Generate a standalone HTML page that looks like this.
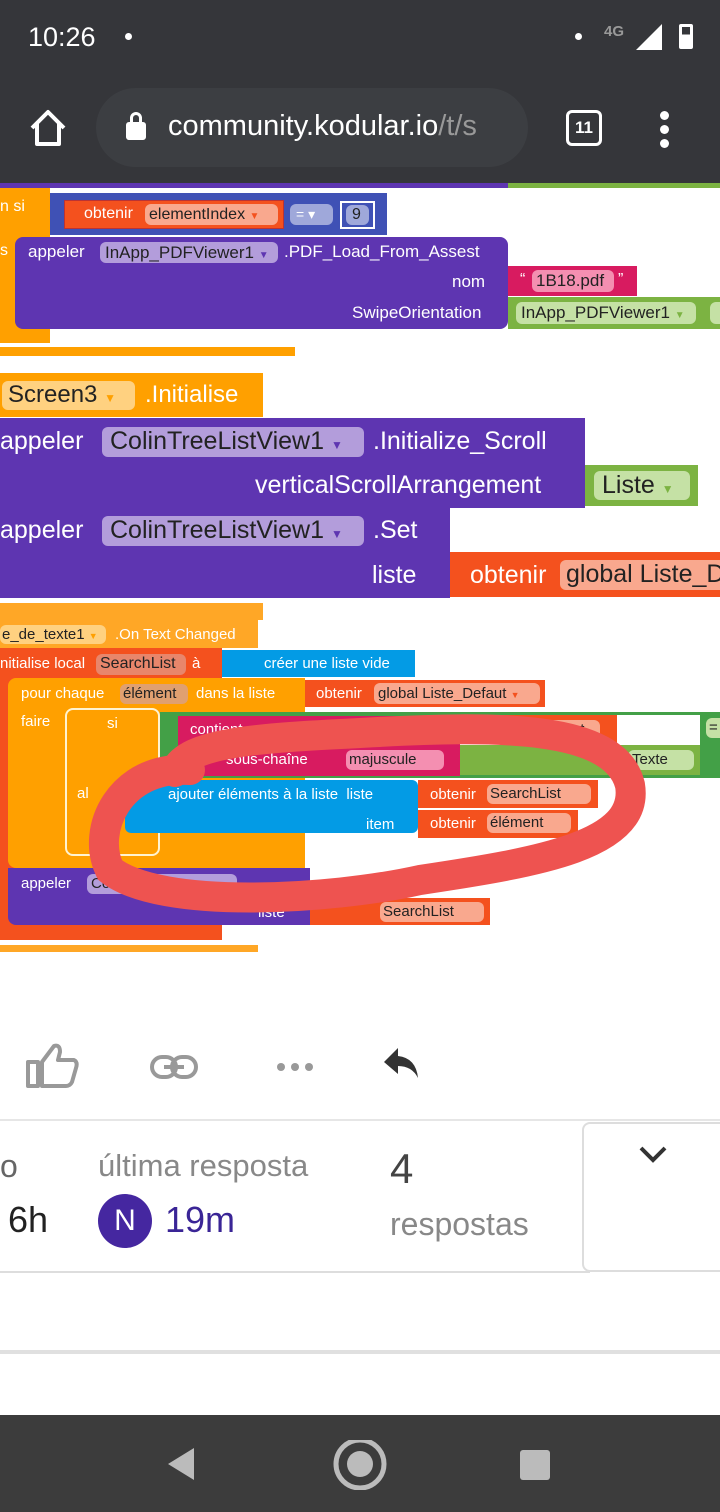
<!DOCTYPE html>
<html><head><meta charset="utf-8"><style>
*{margin:0;padding:0;box-sizing:border-box}
body{width:720px;height:1512px;position:relative;overflow:hidden;background:#fff;font-family:"Liberation Sans",sans-serif}
.a{position:absolute}
.t{position:absolute;white-space:nowrap;color:#fff;line-height:1}
.p{position:absolute;border-radius:6px;white-space:nowrap;line-height:1;color:#222}
.P{background:#5e35b1}.Y{background:#ffa000}.R{background:#f4511e}.B{background:#039be5}.G{background:#7cb342}.DG{background:#43a047}.M{background:#d81b60}.N{background:#3f51b5}
</style></head><body>
<!-- header -->
<div class="a" style="left:0;top:0;width:720px;height:183px;background:#35363a"></div>
<div class="t" style="left:28px;top:24px;font-size:27px">10:26</div>
<div class="a" style="left:125px;top:33px;width:7px;height:7px;border-radius:50%;background:#fff"></div>
<div class="a" style="left:575px;top:33px;width:7px;height:7px;border-radius:50%;background:#fff"></div>
<div class="t" style="left:604px;top:24px;font-size:15px;color:#999;font-weight:bold">4G</div>
<svg class="a" style="left:634px;top:24px" width="30" height="26"><polygon points="28,0 28,26 2,26" fill="#fff"/></svg>
<div class="a" style="left:679px;top:24px;width:14px;height:25px;border:3px solid #fff;border-radius:2px;background:linear-gradient(#35363a 40%,#fff 40%)"></div>
<svg class="a" style="left:28px;top:108px" width="40" height="40"><path d="M4 20 L20 4 L36 20 M9 15 V36 H31 V15" fill="none" stroke="#fff" stroke-width="4" stroke-linejoin="round"/></svg>
<div class="a" style="left:96px;top:88px;width:432px;height:79px;border-radius:40px;background:#3c3e42"></div>
<div class="a" style="left:126px;top:122px;width:20px;height:18px;background:#fff;border-radius:3px"></div>
<div class="a" style="left:130px;top:112px;width:12px;height:14px;border:3px solid #fff;border-radius:6px 6px 0 0"></div>
<div class="t" style="left:168px;top:112px;font-size:29px">community.kodular.io<span style="color:#999">/t/s</span></div>
<div class="a" style="left:566px;top:110px;width:36px;height:36px;border:3px solid #fff;border-radius:6px;color:#fff;font-size:17px;text-align:center;line-height:30px;font-weight:bold">11</div>
<div class="a" style="left:660px;top:111px;width:9px;height:9px;border-radius:50%;background:#fff;box-shadow:0 14px 0 #fff,0 28px 0 #fff"></div>

<!-- blocks top -->
<div class="a P" style="left:0;top:183px;width:508px;height:5px"></div>
<div class="a G" style="left:508px;top:183px;width:212px;height:5px"></div>
<div class="a Y" style="left:0;top:188px;width:50px;height:155px"></div>
<div class="t" style="left:0;top:199px;font-size:16px">n si</div>
<div class="t" style="left:0;top:243px;font-size:16px">s</div>
<div class="a N" style="left:50px;top:193px;width:337px;height:42px"></div>
<div class="a R" style="left:64px;top:200px;width:220px;height:29px;border:1px solid #b33"></div>
<div class="t" style="left:84px;top:206px;font-size:16px">obtenir</div>
<div class="p" style="left:145px;top:204px;width:133px;height:21px;background:#f9a88e;font-size:16px;padding:3px 4px">elementIndex <span style="color:#f4511e;font-size:10px">▼</span></div>
<div class="p" style="left:290px;top:204px;width:43px;height:21px;background:#9fa8da;font-size:14px;padding:3px 6px;color:#fff">= ▾</div>
<div class="a" style="left:340px;top:201px;width:35px;height:28px;border:2px solid #fff;background:#3f51b5"></div>
<div class="p" style="left:346px;top:205px;width:23px;height:20px;background:#9fa8da;font-size:16px;padding:2px 6px">9</div>
<div class="a P" style="left:15px;top:237px;width:493px;height:92px;border-radius:8px"></div>
<div class="t" style="left:28px;top:243px;font-size:17px">appeler</div>
<div class="p" style="left:100px;top:242px;width:178px;height:21px;background:#b39ddb;font-size:17px;padding:2px 5px">InApp_PDFViewer1 <span style="color:#5e35b1;font-size:10px">▼</span></div>
<div class="t" style="left:284px;top:243px;font-size:17px">.PDF_Load_From_Assest</div>
<div class="t" style="left:452px;top:273px;font-size:17px">nom</div>
<div class="a M" style="left:508px;top:266px;width:129px;height:30px"></div>
<div class="t" style="left:520px;top:272px;font-size:16px">“</div>
<div class="p" style="left:532px;top:270px;width:82px;height:22px;background:#f48fb1;font-size:17px;padding:2px 4px">1B18.pdf</div>
<div class="t" style="left:618px;top:272px;font-size:16px">”</div>
<div class="t" style="left:352px;top:304px;font-size:17px">SwipeOrientation</div>
<div class="a G" style="left:508px;top:297px;width:212px;height:32px"></div>
<div class="p" style="left:516px;top:302px;width:180px;height:22px;background:#c5e1a5;font-size:17px;padding:2px 5px">InApp_PDFViewer1 <span style="color:#7cb342;font-size:10px">▼</span></div>
<div class="p" style="left:710px;top:302px;width:20px;height:22px;background:#c5e1a5"></div>
<div class="a Y" style="left:0;top:347px;width:295px;height:9px"></div>

<!-- Screen3 -->
<div class="a Y" style="left:0;top:373px;width:263px;height:44px"></div>
<div class="p" style="left:2px;top:381px;width:133px;height:29px;background:#ffd180;font-size:24px;padding:2px 6px">Screen3 <span style="color:#ffa000;font-size:12px">▼</span></div>
<div class="t" style="left:145px;top:383px;font-size:24px">.Initialise</div>
<div class="a P" style="left:0;top:418px;width:585px;height:90px"></div>
<div class="t" style="left:0;top:429px;font-size:25px">appeler</div>
<div class="p" style="left:102px;top:427px;width:262px;height:30px;background:#b39ddb;font-size:25px;padding:2px 8px">ColinTreeListView1 <span style="color:#5e35b1;font-size:12px">▼</span></div>
<div class="t" style="left:373px;top:429px;font-size:25px">.Initialize_Scroll</div>
<div class="t" style="left:255px;top:473px;font-size:25px">verticalScrollArrangement</div>
<div class="a G" style="left:585px;top:465px;width:113px;height:41px"></div>
<div class="p" style="left:594px;top:471px;width:96px;height:29px;background:#c5e1a5;font-size:25px;padding:2px 8px">Liste <span style="color:#7cb342;font-size:12px">▼</span></div>
<div class="a P" style="left:0;top:508px;width:450px;height:90px"></div>
<div class="t" style="left:0;top:518px;font-size:25px">appeler</div>
<div class="p" style="left:102px;top:516px;width:262px;height:30px;background:#b39ddb;font-size:25px;padding:2px 8px">ColinTreeListView1 <span style="color:#5e35b1;font-size:12px">▼</span></div>
<div class="t" style="left:373px;top:518px;font-size:25px">.Set</div>
<div class="t" style="left:372px;top:563px;font-size:25px">liste</div>
<div class="a R" style="left:450px;top:552px;width:270px;height:45px"></div>
<div class="t" style="left:470px;top:563px;font-size:25px">obtenir</div>
<div class="p" style="left:560px;top:560px;width:170px;height:30px;background:#f9a88e;font-size:25px;padding:2px 6px">global Liste_D</div>

<!-- On text changed -->
<div class="a Y" style="left:0;top:603px;width:263px;height:17px;background:#ffa726"></div>
<div class="a" style="left:0;top:620px;width:258px;height:28px;background:#ffa726"></div>
<div class="p" style="left:0;top:625px;width:106px;height:19px;background:#ffd180;font-size:15px;padding:2px 2px">e_de_texte1 <span style="color:#ffa000;font-size:9px">▼</span></div>
<div class="t" style="left:115px;top:627px;font-size:15px">.On Text Changed</div>
<div class="a R" style="left:0;top:648px;width:222px;height:292px"></div>
<div class="t" style="left:0;top:656px;font-size:15px">nitialise local</div>
<div class="p" style="left:96px;top:654px;width:90px;height:21px;background:#e8866b;font-size:16px;padding:2px 4px">SearchList</div>
<div class="t" style="left:192px;top:656px;font-size:15px">à</div>
<div class="a B" style="left:222px;top:650px;width:193px;height:27px"></div>
<div class="t" style="left:264px;top:656px;font-size:15px">créer une liste vide</div>
<div class="a Y" style="left:8px;top:678px;width:297px;height:190px;border-radius:8px 0 0 8px"></div>
<div class="t" style="left:21px;top:686px;font-size:15px">pour chaque</div>
<div class="p" style="left:120px;top:684px;width:68px;height:20px;background:#e0a070;font-size:15px;padding:2px 3px">élément</div>
<div class="t" style="left:196px;top:686px;font-size:15px">dans la liste</div>
<div class="a R" style="left:305px;top:680px;width:240px;height:27px"></div>
<div class="t" style="left:316px;top:686px;font-size:15px">obtenir</div>
<div class="p" style="left:374px;top:683px;width:166px;height:21px;background:#f9a88e;font-size:15px;padding:3px 4px">global Liste_Defaut <span style="color:#f4511e;font-size:9px">▼</span></div>
<div class="t" style="left:21px;top:714px;font-size:15px">faire</div>
<div class="a" style="left:65px;top:708px;width:95px;height:148px;background:#ffa000;border:2px solid #fff3d0;border-radius:8px"></div>
<div class="t" style="left:107px;top:716px;font-size:15px">si</div>
<div class="t" style="left:77px;top:786px;font-size:15px">al</div>
<div class="a DG" style="left:160px;top:712px;width:560px;height:66px"></div>
<div class="a M" style="left:178px;top:716px;width:282px;height:60px"></div>
<div class="t" style="left:190px;top:722px;font-size:15px">contient</div>
<div class="t" style="left:226px;top:752px;font-size:15px">sous-chaîne</div>
<div class="p" style="left:346px;top:750px;width:98px;height:20px;background:#f48fb1;font-size:15px;padding:2px 3px">majuscule</div>
<div class="a" style="left:460px;top:715px;width:240px;height:30px;background:#fff"></div>
<div class="a R" style="left:460px;top:715px;width:157px;height:29px"></div>
<div class="t" style="left:470px;top:722px;font-size:15px">obtenir</div>
<div class="p" style="left:528px;top:720px;width:72px;height:20px;background:#f9a88e;font-size:15px;padding:2px 3px">élément</div>
<div class="a G" style="left:460px;top:745px;width:240px;height:30px"></div>
<div class="p" style="left:628px;top:750px;width:66px;height:20px;background:#c5e1a5;font-size:15px;padding:2px 4px">Texte</div>
<div class="p" style="left:706px;top:718px;width:20px;height:20px;background:#c5e1a5;font-size:15px;padding:2px 3px">=</div>
<div class="a B" style="left:125px;top:780px;width:293px;height:53px;border-radius:6px"></div>
<div class="t" style="left:168px;top:787px;font-size:15px">ajouter éléments à la liste &nbsp;liste</div>
<div class="t" style="left:366px;top:817px;font-size:15px">item</div>
<div class="a R" style="left:418px;top:780px;width:180px;height:28px"></div>
<div class="t" style="left:430px;top:787px;font-size:15px">obtenir</div>
<div class="p" style="left:487px;top:784px;width:104px;height:20px;background:#f9a88e;font-size:15px;padding:2px 3px">SearchList</div>
<div class="a R" style="left:418px;top:810px;width:160px;height:28px"></div>
<div class="t" style="left:430px;top:816px;font-size:15px">obtenir</div>
<div class="p" style="left:487px;top:813px;width:84px;height:20px;background:#f9a88e;font-size:15px;padding:2px 3px">élément</div>
<div class="a Y" style="left:65px;top:856px;width:240px;height:11px"></div>
<div class="a P" style="left:8px;top:868px;width:302px;height:57px;border-radius:0 0 0 8px"></div>
<div class="t" style="left:21px;top:876px;font-size:15px">appeler</div>
<div class="p" style="left:87px;top:874px;width:150px;height:20px;background:#b39ddb;font-size:15px;padding:2px 4px">Co</div>
<div class="t" style="left:258px;top:905px;font-size:15px">liste</div>
<div class="a R" style="left:310px;top:898px;width:180px;height:27px"></div>
<div class="p" style="left:380px;top:902px;width:104px;height:20px;background:#f9a88e;font-size:15px;padding:2px 3px">SearchList</div>
<div class="a Y" style="left:0;top:945px;width:258px;height:7px;background:#ffa726"></div>

<svg class="a" style="left:0;top:0" width="720" height="1000"><path d="M190 770 C120 765 90 830 110 870 C160 910 330 900 420 880 C540 862 640 845 630 785 C615 725 500 725 360 733 C260 738 185 742 175 772" fill="none" stroke="#ee5350" stroke-width="30" stroke-linecap="round"/></svg>

<!-- footer -->
<svg class="a" style="left:26px;top:1042px" width="54" height="46"><path d="M2 20 H12 V44 H2 Z M16 20 L28 4 Q34 2 34 10 L32 18 H48 Q52 20 50 26 L46 40 Q44 44 40 44 H16 Z" fill="none" stroke="#999" stroke-width="4" stroke-linejoin="round"/></svg>
<svg class="a" style="left:150px;top:1054px" width="48" height="26"><rect x="2" y="3" width="24" height="20" rx="10" fill="none" stroke="#999" stroke-width="4"/><rect x="22" y="3" width="24" height="20" rx="10" fill="none" stroke="#999" stroke-width="4"/><rect x="14" y="11" width="20" height="4" fill="#999"/></svg>
<div class="a" style="left:277px;top:1063px;width:8px;height:8px;border-radius:50%;background:#999;box-shadow:14px 0 0 #999,28px 0 0 #999"></div>
<svg class="a" style="left:382px;top:1046px" width="38" height="34"><path d="M16 2 L2 16 L16 28 V20 Q30 20 36 32 Q34 12 16 10 Z" fill="#333"/></svg>
<div class="a" style="left:0;top:1119px;width:720px;height:2px;background:#e6e6e6"></div>
<div class="t" style="left:0;top:1150px;font-size:32px;color:#666">o</div>
<div class="t" style="left:8px;top:1202px;font-size:36px;color:#222">6h</div>
<div class="t" style="left:98px;top:1150px;font-size:31px;color:#888">última resposta</div>
<div class="a" style="left:98px;top:1194px;width:54px;height:54px;border-radius:50%;background:#4527a0;color:#fff;font-size:30px;text-align:center;line-height:54px">N</div>
<div class="t" style="left:165px;top:1202px;font-size:36px;color:#3a2596">19m</div>
<div class="t" style="left:390px;top:1148px;font-size:42px;color:#444">4</div>
<div class="t" style="left:390px;top:1208px;font-size:32px;color:#888">respostas</div>
<div class="a" style="left:582px;top:1122px;width:150px;height:150px;border:2px solid #ddd;border-radius:8px"></div>
<svg class="a" style="left:638px;top:1144px" width="30" height="20"><path d="M3 4 L15 16 L27 4" fill="none" stroke="#333" stroke-width="4"/></svg>
<div class="a" style="left:0;top:1271px;width:590px;height:2px;background:#ddd"></div>
<div class="a" style="left:0;top:1350px;width:720px;height:4px;background:#e0e0e0"></div>
<div class="a" style="left:0;top:1415px;width:720px;height:97px;background:#3c3c3c"></div>
<svg class="a" style="left:160px;top:1440px" width="420" height="50"><polygon points="8,24 34,8 34,40" fill="#bbb"/><circle cx="200" cy="24" r="24" fill="none" stroke="#bbb" stroke-width="5"/><circle cx="200" cy="24" r="13" fill="#bbb"/><rect x="360" y="10" width="30" height="30" rx="3" fill="#bbb"/></svg>
</body></html>
